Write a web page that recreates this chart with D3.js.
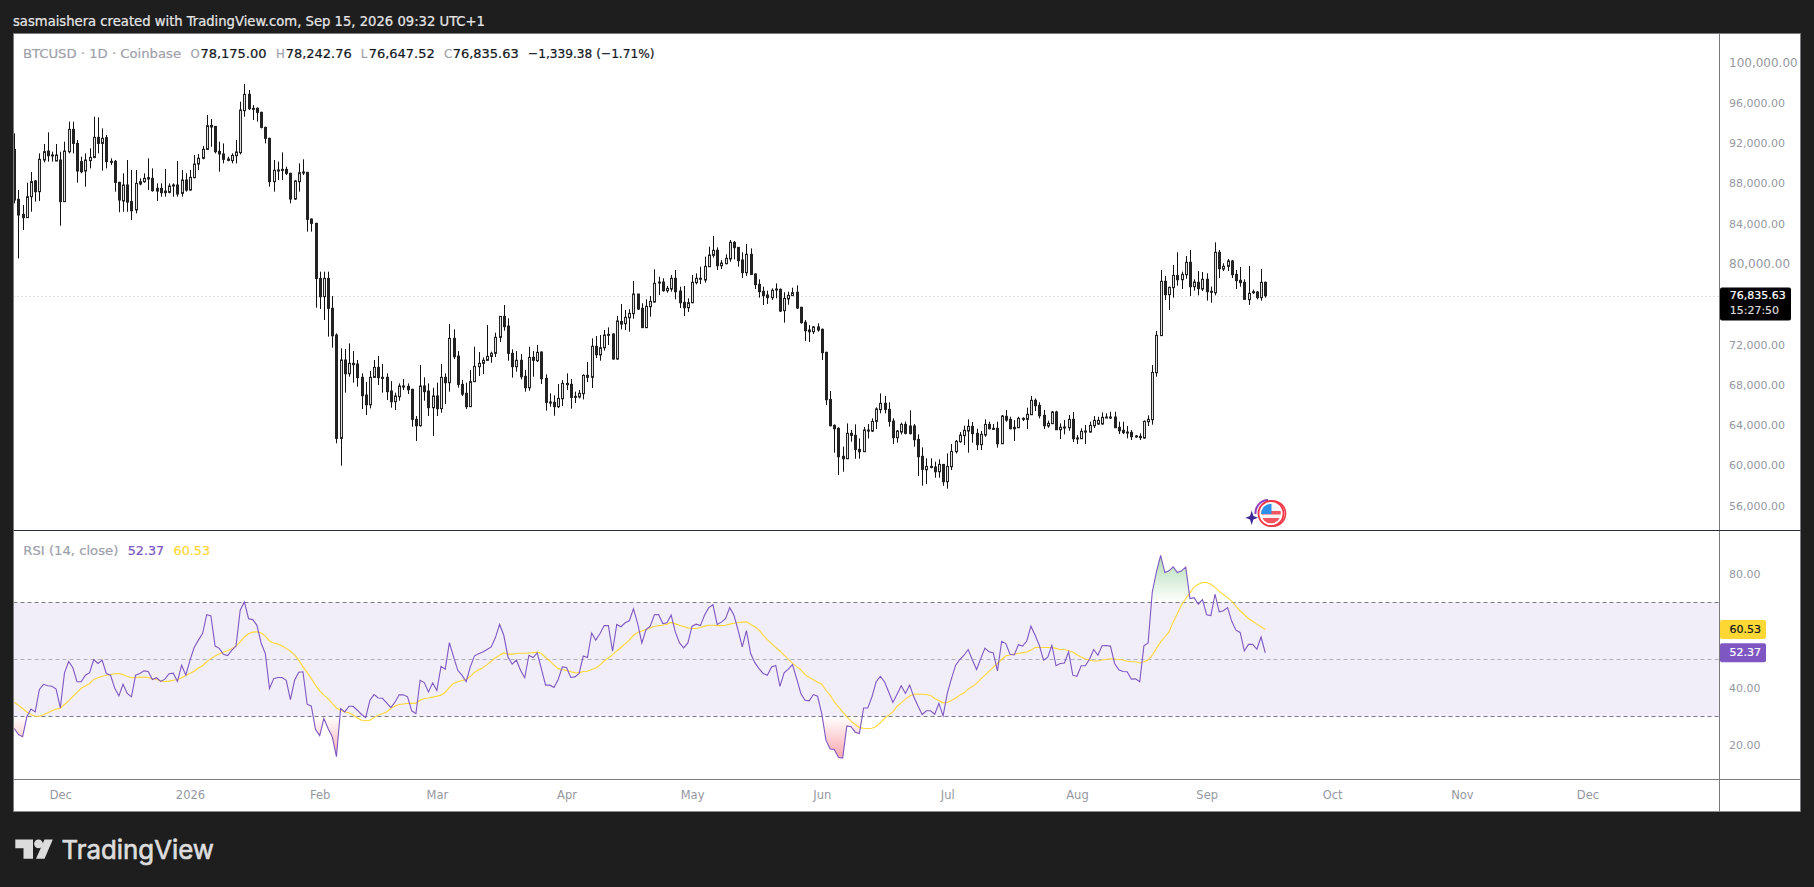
<!DOCTYPE html>
<html>
<head>
<meta charset="utf-8">
<title>BTCUSD</title>
<script src="https://cdn.jsdelivr.net/npm/d3@7"></script>
<style>
html, body { margin: 0; padding: 0; background: #1e1e1e; }
svg { display: block; }
</style>
</head>
<body>
<div id="canvas"></div>
<script>
// daily candles, last one is Sep 15 2026
const lastDay = "2026-09-15";
const opens = [
91370,86410,84920,84590,86670,88230,87170,90310,91200,90810,
90210,90310,86180,91140,93350,91960,90150,89220,90250,90570,
92560,91960,92530,90180,90180,88090,86240,87830,86180,85350,
87930,88160,88560,88490,87500,87500,87230,87100,87830,87830,
87000,88330,87330,88560,89910,90480,91370,93750,93650,91170,
90910,90410,90250,90740,91040,95210,96830,95440,95440,95040,
93550,92460,88160,89320,89380,89380,88990,86440,88160,89120,
89090,84450,84020,78560,76750,78560,75590,72940,62680,70460,
69100,70130,70060,68740,66980,66020,68740,69730,68740,68740,
67380,66320,66820,67880,67840,67550,64570,63940,67880,67380,
65730,66890,65630,68740,68210,72610,70850,68040,67150,65830,
68310,69800,70130,70430,70820,71120,72710,74790,73830,71120,
69800,70430,68840,67710,70720,70390,71250,68640,66290,66260,
65830,66620,68140,68040,66850,66790,67120,68940,68740,71820,
70960,71680,73010,73040,70560,74270,74070,74660,75060,77010,
75590,73670,75750,76220,78200,78200,77340,77510,78570,77310,
76180,75650,76150,78140,78470,78400,79720,80850,81350,79820,
80020,80490,82140,81640,80390,79130,80950,79000,77970,77280,
76910,76650,77510,77470,75360,76520,76850,77180,75690,74200,
73440,73270,73740,73500,71220,66550,63970,63680,60900,60660,
63180,62980,61590,61360,63510,63410,64370,65530,66160,65560,
64400,62750,63310,64070,63910,63910,62580,60900,59570,59900,
59840,59370,60100,58380,59870,61360,62350,62950,63410,63870,
63180,62060,63010,64070,63680,63680,62150,64870,64570,63780,
63740,64670,64570,65030,66460,65960,64970,63910,64140,65300,
63540,63810,63740,64570,62720,62650,63350,63310,63940,64110,
64110,64740,64800,64800,63780,63480,63310,63280,62920,62880,
62720,64340,64540,69200,72880,78270,76950,77640,78860,78430,
78930,80160,77740,78170,77510,78470,77280,77140,81150,79490,
79760,80290,78960,78370,78170,76450,77240,77210,76650,78175];
const highs = [
92960,87330,85840,88060,89120,88330,90970,91900,93060,91140,
91900,91140,92130,94120,94120,92300,90640,90970,91470,94610,
94550,93450,92790,90480,90310,88160,88990,90310,89320,89320,
88490,88990,90480,89480,87990,87990,89420,87990,87990,90210,
89320,88990,89320,90810,90910,91700,94780,94380,93650,92130,
91960,90640,90970,92300,96100,97860,97260,95770,95540,95110,
93620,92530,90310,90150,91070,89650,89050,88330,89980,90380,
89120,84520,84090,79230,79230,79230,76810,73110,71620,71550,
72110,71350,70460,69140,68270,69370,70460,70850,70060,69140,
68370,67220,68140,68570,68140,67610,64900,69960,68740,68140,
67710,68210,70060,69140,74030,73500,71350,68470,68210,69470,
71780,71250,70720,73930,71290,73170,74830,75920,74600,71520,
71350,71050,69470,71780,71350,71950,71320,69040,67150,66950,
68080,68470,69140,68570,67320,67480,69040,70260,72610,72840,
72940,73440,73700,73110,74830,76020,75420,75490,78300,77010,
76090,76480,76810,79460,78730,78570,77810,78900,79390,77740,
77810,76580,78900,79060,79720,80720,81710,82770,81640,80390,
80950,82370,82270,81640,81150,81970,81540,79060,78470,77740,
77340,77570,78070,77570,77180,77240,77640,77870,75750,74430,
73930,73830,74100,73600,71290,67380,64070,63780,61860,64170,
63510,64070,62680,63810,64110,64670,65760,67150,66890,66260,
64670,63510,64240,64340,65460,64110,63080,61790,60700,60700,
60370,60600,60100,61190,62120,62520,63310,63940,64570,64310,
63640,63410,64570,64340,64110,64340,65000,65500,64830,64500,
64830,64770,65730,66890,66650,66260,65500,64440,65400,65430,
64170,64500,65000,65300,63010,63680,64010,64340,64900,64830,
65260,65170,65330,65330,64340,64340,63910,63510,63010,63180,
64470,64970,69960,73340,79390,78800,77740,79890,81150,79230,
80780,81380,78470,79290,79200,79060,77740,82140,81380,80060,
80490,80390,79390,79690,78470,79790,77440,77310,79490,78242.76];
const lows = [
86010,80550,83360,84590,85180,86180,86240,90080,90150,90150,
90210,83790,86180,90970,90970,88060,88990,87660,89480,90480,
90970,89250,89480,89810,87170,85120,85180,85180,84360,85020,
87800,88060,87330,87170,86240,86670,86670,87000,86670,86670,
86670,87170,87270,88490,89320,90380,91300,91630,90970,89150,
89980,90180,89980,89980,90870,94610,95270,94280,94120,93450,
91960,87660,87170,88330,88330,88820,86010,86340,87170,88820,
83200,83200,75650,75520,74430,72780,71680,62190,59970,67220,
68800,68210,67810,65590,65000,65660,68710,67980,67220,66490,
65730,65500,66420,67480,67080,63840,62420,63840,66420,64900,
62910,64900,65230,66090,67320,70560,67710,66890,65590,65830,
68310,68870,69070,70360,70190,70760,72250,73370,70390,68710,
69300,68540,67320,67410,68800,70260,68080,65430,65830,64930,
65690,65890,67480,65630,66190,66650,66550,68270,67680,70660,
70390,71390,71950,70490,70490,73500,73440,73270,74560,75420,
73670,73670,74760,76150,76910,77240,77140,77240,76480,75620,
74830,75220,76090,77970,78000,78140,79720,80620,79390,79490,
79960,80220,80450,79720,78600,78800,78900,77510,76650,75920,
76020,76420,76580,75220,74170,75950,76810,75520,74070,72350,
72250,73040,73270,70460,65990,63870,61260,59040,59370,60660,
62350,60660,60660,61360,62680,63310,63610,65170,65170,63840,
62120,62250,63080,63080,63080,61860,58940,57980,58150,59710,
58780,58780,57980,57690,59540,61190,62250,62020,61260,62250,
61530,61530,62850,63580,63510,61760,62150,64340,63580,62420,
63740,64400,63610,65030,65400,64670,63610,63740,64140,63540,
62620,63080,63440,62320,62120,62650,62120,63250,63710,64010,
64040,64700,64600,63740,63110,63110,62680,62520,62750,62520,
62650,63910,64040,68800,72880,76420,75420,76650,77840,77510,
78530,76810,77340,76880,77310,76350,76150,76880,78600,79290,
79290,78600,77510,77740,76480,75920,77010,76480,76350,76647.52];
const closes = [
86340,84850,84590,86670,88160,87170,90380,91140,90740,90740,
90810,86180,91200,93350,91960,89220,89150,90310,90570,92560,
91960,92460,90150,90110,88090,86340,87830,86140,85280,87990,
88160,88490,88430,87270,87230,87070,87070,87730,87760,86940,
88330,87330,88590,89910,90480,91370,93720,93590,91140,90910,
90380,90280,90770,91110,95270,96830,95410,95370,95040,93550,
92460,88160,89290,89250,89290,88990,86440,88230,89050,89050,
84420,84020,78560,76750,78560,75590,72870,62680,70460,69100,
70130,70000,68710,66920,66020,68740,69730,68710,68670,67320,
66320,66890,67880,67780,67510,64570,63940,67880,67320,65730,
66890,65630,68740,68210,72610,70790,68040,67080,65830,68310,
69830,70130,70430,70820,71120,72710,74790,73770,71120,69800,
70430,68800,67710,70720,70430,71220,68610,66260,66220,65830,
66650,68140,68010,66750,66790,67150,68940,68740,71820,70990,
71680,72940,72940,70560,74330,74030,74700,75090,77010,75520,
73670,75790,76280,78070,78140,77340,77570,78570,77240,76150,
75650,76150,78170,78570,78570,79760,80880,81350,79820,80090,
80550,82140,81610,80320,79130,80950,78960,77940,77240,76850,
76650,77380,77440,75320,76580,76880,77140,75620,74170,73370,
73270,73740,73440,71190,66520,63940,63640,60860,60660,63180,
62980,61590,61360,63510,63440,64370,65600,66160,65560,64370,
62750,63410,64070,63180,63150,62550,60860,59610,59900,59840,
59370,60100,58380,59900,61390,62390,63010,63480,63870,63150,
62060,63080,64070,63640,63610,62150,64900,64500,63640,63640,
64670,64570,65070,66460,65930,64930,63940,64170,65300,63540,
63780,63740,64570,62650,62650,63380,63410,63970,64470,64470,
64770,64800,64740,63740,63440,63250,63250,62850,62850,62750,
64370,64570,69230,72910,78270,76950,77670,78860,78430,78960,
80160,77740,78200,77540,78470,77240,77210,81150,79530,79760,
80290,78930,78340,78140,76480,77080,77180,76650,78175,76835.63];

const rsi = [
25.8,23.7,22.9,29.9,32.6,31.6,39.5,41.3,40.8,40.6,39.6,33.0,45.3,49.3,47.1,42.2,42.2,44.5,45.4,50.0,
48.6,49.8,45.1,44.5,40.0,37.2,41.3,38.1,36.9,44.5,45.1,46.0,45.8,43.0,43.6,42.3,43.1,45.0,45.2,42.3,
48.0,44.5,49.8,54.2,56.8,59.1,65.7,65.3,54.7,53.9,51.8,51.4,53.3,54.7,67.3,70.2,64.3,64.0,62.0,55.8,
52.1,39.8,43.3,43.7,43.7,42.7,35.9,42.7,45.5,45.7,34.3,33.6,25.4,23.3,29.3,25.8,22.9,15.9,32.8,31.6,
33.6,33.6,32.2,30.7,29.6,35.7,37.7,36.5,36.4,34.8,33.1,35.1,37.6,37.6,36.9,32.0,31.0,42.7,41.9,38.6,
41.8,39.2,47.6,46.6,55.9,50.9,46.2,44.5,42.2,47.4,51.3,52.0,52.6,53.5,54.4,57.7,62.3,58.5,50.9,48.4,
49.8,46.2,43.6,51.5,50.7,52.3,46.6,41.0,41.0,40.2,43.0,47.4,47.2,43.7,43.9,45.1,51.2,50.7,59.3,56.8,
59.1,61.9,61.9,52.9,62.3,61.5,62.9,63.6,67.8,62.6,55.8,60.5,61.7,65.7,65.8,62.6,62.9,65.6,59.7,55.8,
54.1,55.8,61.7,62.4,61.9,65.6,68.2,69.2,62.3,63.1,64.3,68.2,65.6,60.3,54.4,60.1,52.1,48.9,46.8,45.1,
44.5,47.4,47.9,40.6,45.3,46.6,48.2,43.3,38.1,35.7,35.5,37.7,37.1,31.0,21.7,18.6,18.4,15.6,15.4,26.7,
26.4,24.5,24.0,33.0,33.0,36.9,42.2,44.1,42.2,38.6,34.9,37.8,40.8,38.1,41.0,36.9,33.7,30.7,32.0,32.0,
30.8,34.6,30.2,38.1,43.3,48.0,50.0,51.5,53.5,49.8,46.5,50.3,54.0,52.7,52.3,46.0,56.4,55.6,51.8,51.6,
55.2,54.7,56.5,61.7,58.5,55.0,49.8,50.7,55.0,47.8,48.6,48.8,52.7,44.5,44.1,47.8,47.8,50.1,53.5,51.5,
54.8,54.9,54.7,48.6,46.4,45.8,45.7,43.1,43.2,42.2,54.8,55.8,73.7,80.8,86.5,80.5,81.1,82.5,80.5,81.1,
82.4,71.4,71.7,69.4,71.0,65.7,65.4,72.9,66.7,67.1,68.2,63.4,60.3,59.5,53.0,55.3,55.3,53.6,57.9,52.37];
const rsiMa = [
35.0,33.9,32.8,31.6,30.7,30.1,30.1,30.6,31.3,32.0,32.6,32.9,34.2,35.5,37.1,38.5,39.9,40.7,41.6,43.0,
43.6,44.1,44.5,44.7,45.0,45.1,44.7,44.0,43.6,43.7,43.8,43.8,43.7,43.3,43.1,42.4,42.3,42.4,42.7,43.0,
43.6,44.4,45.2,45.9,47.0,47.8,49.2,50.3,51.2,51.9,52.6,53.1,53.9,54.7,56.2,57.9,59.0,59.6,59.7,59.3,
58.2,56.5,55.8,55.4,54.7,53.9,52.9,51.6,49.8,47.4,45.5,43.3,41.0,39.0,37.5,36.3,34.6,33.0,32.2,31.6,
31.3,30.5,29.5,28.7,28.5,28.7,29.6,30.5,31.0,31.6,32.8,33.7,34.2,34.4,34.6,34.6,34.7,35.7,36.3,36.5,
36.8,37.1,37.5,38.5,40.2,41.6,42.2,42.6,43.0,44.1,45.5,46.4,47.1,48.2,49.4,50.6,51.5,52.3,51.9,51.9,
52.1,52.2,52.2,52.3,52.4,52.6,52.1,50.7,49.5,48.0,46.8,46.5,46.1,45.7,45.4,45.3,45.8,45.9,46.5,47.0,
48.1,49.5,50.5,51.7,53.0,54.2,55.5,56.8,58.5,59.5,60.0,60.5,61.1,61.6,61.9,62.0,62.4,63.0,62.5,62.0,
61.6,61.1,60.9,60.9,61.2,61.7,62.0,62.0,61.9,61.9,62.0,62.4,62.7,63.0,63.1,63.2,62.3,61.5,60.4,58.5,
57.0,55.6,54.2,53.0,51.5,50.1,48.7,47.5,46.4,44.7,43.7,42.9,42.0,41.3,39.2,37.5,35.1,33.4,31.6,29.9,
28.4,27.2,26.1,25.9,25.8,25.9,26.5,27.8,29.3,30.5,31.6,33.6,34.8,36.1,37.2,37.8,37.9,37.8,37.7,37.4,
36.3,35.6,34.8,34.9,35.6,36.5,37.5,38.3,39.6,40.5,41.6,43.1,44.5,45.9,47.3,48.6,50.0,51.3,51.6,51.9,
52.1,52.4,52.6,53.3,54.2,54.3,54.2,54.2,54.2,53.9,53.5,53.5,53.1,52.6,51.7,50.9,50.2,49.8,49.5,49.5,
49.8,50.1,50.2,50.2,50.0,49.8,49.4,49.2,49.2,48.8,49.2,49.8,51.5,53.9,56.2,57.9,59.7,63.2,66.1,69.1,
71.4,73.4,75.5,76.4,77.0,77.0,76.4,75.3,73.9,72.8,71.7,70.5,68.7,67.1,65.7,64.4,63.4,62.4,61.5,60.53];

const priceTicks = [100000,96000,92000,88000,84000,80000,72000,68000,64000,60000,56000];
const widePriceTicks = [100000,80000];
const rsiTicks = [80,40,20];
const monthTicks = ["2025-12-01","2026-01-01","2026-02-01","2026-03-01","2026-04-01","2026-05-01","2026-06-01","2026-07-01","2026-08-01","2026-09-01","2026-10-01","2026-11-01","2026-12-01"];
const monthLabels = ["Dec","2026","Feb","Mar","Apr","May","Jun","Jul","Aug","Sep","Oct","Nov","Dec"];

const dayMs = 86400000;
const days = opens.map((d, i) => new Date(Date.parse(lastDay) - (opens.length - 1 - i)*dayMs));

// layout of the screenshot
const W = 1814, H = 887;
const plotLeft = 13.5, plotTop = 33.5, axisX = 1719.5, plotRight = 1800.5, plotBottom = 811.5;
const paneY = 530.5, timeY = 779.5;
const frameGray = "#7b7b7f", textGray = "#9598a1";
const uiFont = "'DejaVu Sans Condensed','DejaVu Sans',sans-serif";
const axisFont = "'DejaVu Sans',sans-serif";

const x = d3.scaleUtc()
    .domain([new Date("2025-12-01"), new Date("2026-12-01")])
    .range([60.3, 1587.4]);
const y = d3.scaleLinear().domain([56000, 100000]).range([505.7, 62.4]);
const yr = d3.scaleLinear().domain([30, 70]).range([716.5, 602.5]);

const svg = d3.select("#canvas").append("svg")
    .attr("width", W)
    .attr("height", H)
    .attr("viewBox", `0 0 ${W} ${H}`);

svg.append("rect").attr("width", W).attr("height", H).attr("fill", "#1e1e1e");
svg.append("rect")
    .attr("x", plotLeft).attr("y", plotTop)
    .attr("width", plotRight - plotLeft).attr("height", plotBottom - plotTop)
    .attr("fill", "#fff");

const defs = svg.append("defs");
defs.append("clipPath").attr("id", "plot").append("rect")
    .attr("x", plotLeft).attr("y", plotTop).attr("width", axisX - plotLeft).attr("height", timeY - plotTop);
defs.append("clipPath").attr("id", "over").append("rect")
    .attr("x", plotLeft).attr("y", paneY).attr("width", axisX - plotLeft).attr("height", yr(70) - paneY);
defs.append("clipPath").attr("id", "under").append("rect")
    .attr("x", plotLeft).attr("y", yr(30)).attr("width", axisX - plotLeft).attr("height", timeY - yr(30));

function gradient(id, y1, y2, color) {
    const g = defs.append("linearGradient").attr("id", id)
        .attr("gradientUnits", "userSpaceOnUse")
        .attr("x1", 0).attr("x2", 0).attr("y1", y1).attr("y2", y2);
    g.append("stop").attr("offset", 0).attr("stop-color", color).attr("stop-opacity", 0.45);
    g.append("stop").attr("offset", 1).attr("stop-color", color).attr("stop-opacity", 0);
}
gradient("greenFade", yr(87), yr(70), "#4caf50");
gradient("redFade", yr(15), yr(30), "#f23645");

// last price line
const closeLast = closes[closes.length - 1];
svg.append("line")
    .attr("x1", plotLeft).attr("x2", axisX)
    .attr("y1", Math.round(y(closeLast)) + 0.5).attr("y2", Math.round(y(closeLast)) + 0.5)
    .attr("stroke", "#bdbdbd").attr("stroke-dasharray", "1 3");

// candles
const candles = svg.append("g").attr("clip-path", "url(#plot)");
const idx = d3.range(opens.length);
candles.selectAll("line.wick").data(idx).join("line")
    .attr("class", "wick")
    .attr("x1", i => Math.round(x(days[i])) + 0.5)
    .attr("x2", i => Math.round(x(days[i])) + 0.5)
    .attr("y1", i => y(highs[i]))
    .attr("y2", i => y(lows[i]))
    .attr("stroke", "#111")
    .attr("stroke-width", 1);
candles.selectAll("rect.body").data(idx).join("rect")
    .attr("class", "body")
    .attr("x", i => Math.round(x(days[i])) - 0.5)
    .attr("width", 2)
    .attr("y", i => y(Math.max(opens[i], closes[i])))
    .attr("height", i => Math.max(1, Math.abs(y(opens[i]) - y(closes[i]))))
    .attr("fill", i => closes[i] >= opens[i] ? "#dedede" : "#222")
    .attr("stroke", "#222")
    .attr("stroke-width", 1);

// RSI pane
svg.append("rect")
    .attr("x", plotLeft).attr("width", axisX - plotLeft)
    .attr("y", yr(70)).attr("height", yr(30) - yr(70))
    .attr("fill", "#7e57c2").attr("fill-opacity", 0.1);
[[70, 1], [50, 0.55], [30, 1]].forEach(function(b) {
    svg.append("line")
        .attr("x1", plotLeft).attr("x2", axisX)
        .attr("y1", yr(b[0])).attr("y2", yr(b[0]))
        .attr("stroke", "#787b86").attr("stroke-opacity", b[1])
        .attr("stroke-dasharray", "4 3");
});

const rsiPane = svg.append("g").attr("clip-path", "url(#plot)");
rsiPane.append("path").datum(idx)
    .attr("clip-path", "url(#over)")
    .attr("fill", "url(#greenFade)")
    .attr("d", d3.area().x(i => x(days[i])).y0(yr(70)).y1(i => yr(rsi[i])));
rsiPane.append("path").datum(idx)
    .attr("clip-path", "url(#under)")
    .attr("fill", "url(#redFade)")
    .attr("d", d3.area().x(i => x(days[i])).y0(yr(30)).y1(i => yr(rsi[i])));
rsiPane.append("path").datum(idx)
    .attr("fill", "none").attr("stroke", "#fdd835").attr("stroke-width", 1.1)
    .attr("d", d3.line().x(i => x(days[i])).y(i => yr(rsiMa[i])));
rsiPane.append("path").datum(idx)
    .attr("fill", "none").attr("stroke", "#7e57c2").attr("stroke-width", 1.1)
    .attr("d", d3.line().x(i => x(days[i])).y(i => yr(rsi[i])));

// frame
function frameLine(x1, y1, x2, y2, color) {
    svg.append("line").attr("x1", x1).attr("y1", y1).attr("x2", x2).attr("y2", y2)
        .attr("stroke", color);
}
frameLine(plotLeft, plotTop, plotRight, plotTop, frameGray);
frameLine(plotLeft, plotTop, plotLeft, plotBottom, frameGray);
frameLine(plotRight, plotTop, plotRight, plotBottom, frameGray);
frameLine(plotLeft, plotBottom, plotRight, plotBottom, "#8c8c8c");
frameLine(axisX, plotTop, axisX, plotBottom, frameGray);
frameLine(plotLeft, paneY, plotRight, paneY, "#2a2e39");
frameLine(plotLeft, timeY, plotRight, timeY, frameGray);

// axes
function cleanAxis(g, size) {
    g.select(".domain").remove();
    g.selectAll(".tick line").remove();
    g.selectAll("text")
        .attr("fill", textGray)
        .style("font-family", axisFont)
        .style("font-size", size + "px");
}
svg.append("g")
    .attr("transform", `translate(${axisX},0)`)
    .call(d3.axisRight(y).tickValues(priceTicks).tickSize(0).tickPadding(9.5).tickFormat(d3.format(",.2f")))
    .call(cleanAxis, 11)
    .selectAll(".tick")
    .filter(d => widePriceTicks.includes(d))
    .select("text").style("font-size", "12px");
svg.append("g")
    .attr("transform", `translate(${axisX},0)`)
    .call(d3.axisRight(yr).tickValues(rsiTicks).tickSize(0).tickPadding(9.5).tickFormat(d3.format(".2f")))
    .call(cleanAxis, 11);
svg.append("g")
    .attr("transform", `translate(0,${timeY})`)
    .call(d3.axisBottom(x)
        .tickValues(monthTicks.map(d => new Date(d)))
        .tickSize(0).tickPadding(11)
        .tickFormat((d, i) => monthLabels[i]))
    .call(cleanAxis, 11.5);

// text helper, a hair of stroke to get the weight of the hinted original
function label(px, py, str, fill, size, family, len) {
    const t = svg.append("text")
        .attr("x", px).attr("y", py)
        .attr("dominant-baseline", "central")
        .attr("fill", fill)
        .attr("stroke", fill)
        .attr("stroke-width", 0.2)
        .style("font-family", family)
        .style("font-size", size + "px")
        .text(str);
    if (len) t.attr("textLength", len).attr("lengthAdjust", "spacingAndGlyphs");
    return t;
}

label(13, 20.5, "sasmaishera created with TradingView.com, Sep 15, 2026 09:32 UTC+1", "#e6e6e6", 13.5, uiFont, 472);

const dark = "#131722", mute = "#9ea1aa";
label(23, 53.5, "BTCUSD · 1D · Coinbase", mute, 13, uiFont, 158);
label(190.5, 53.5, "O", mute, 13, uiFont);
label(200.4, 53.5, d3.format(",.2f")(78175), dark, 13, uiFont, 66);
label(276, 53.5, "H", mute, 13, uiFont);
label(285.7, 53.5, d3.format(",.2f")(78242.76), dark, 13, uiFont, 66);
label(360.7, 53.5, "L", mute, 13, uiFont);
label(368.7, 53.5, d3.format(",.2f")(76647.52), dark, 13, uiFont, 66);
label(444, 53.5, "C", mute, 13, uiFont);
label(452.7, 53.5, d3.format(",.2f")(closeLast), dark, 13, uiFont, 66);
label(528, 53.5, "−1,339.38 (−1.71%)", dark, 13, uiFont, 126.5);

label(23.3, 550.7, "RSI (14, close)", mute, 13, uiFont, 95);
label(127.7, 550.7, "52.37", "#7e57c2", 13, uiFont, 36.5);
label(173.6, 550.7, "60.53", "#fdd835", 13, uiFont, 36.5);

// price tag and RSI tags
svg.append("rect").attr("x", axisX + 0.5).attr("y", 287.5).attr("width", 71).attr("height", 33).attr("rx", 2).attr("fill", "#000");
label(1729.7, 295.7, d3.format(",.2f")(closeLast), "#fff", 11, axisFont);
label(1729.7, 310.7, "15:27:50", "#dcdcdc", 11, axisFont);
svg.append("rect").attr("x", axisX + 0.5).attr("y", yr(60.53) - 9.5).attr("width", 46).attr("height", 19).attr("rx", 2).attr("fill", "#fdd835");
label(1729.4, yr(60.53), "60.53", "#131722", 11, axisFont);
svg.append("rect").attr("x", axisX + 0.5).attr("y", yr(52.37) - 9.5).attr("width", 46).attr("height", 19).attr("rx", 2).attr("fill", "#7e57c2");
label(1729.4, yr(52.37), "52.37", "#fff", 11, axisFont);

// economic event badge
const badge = svg.append("g");
badge.append("path")
    .attr("d", "M1251.7 510.5 L1253.4 516 L1258 517.7 L1253.4 519.4 L1251.7 525 L1250 519.4 L1245.4 517.7 L1250 516 Z")
    .attr("fill", "#3f2b96");
badge.append("path")
    .attr("d", "M1255.5 514 A13 13 0 0 1 1268 500")
    .attr("fill", "none").attr("stroke", "#8e3fc0").attr("stroke-width", 2);
badge.append("circle").attr("cx", 1273).attr("cy", 513.5).attr("r", 12.5)
    .attr("fill", "none").attr("stroke", "#f23645").attr("stroke-width", 1.6);
badge.append("circle").attr("cx", 1271).attr("cy", 513.5).attr("r", 12.5)
    .attr("fill", "#fff").attr("stroke", "#f23645").attr("stroke-width", 1.8);
defs.append("clipPath").attr("id", "flag").append("circle")
    .attr("cx", 1271).attr("cy", 513.5).attr("r", 9.8);
const flag = badge.append("g").attr("clip-path", "url(#flag)");
flag.append("rect").attr("x", 1260).attr("y", 503).attr("width", 22).attr("height", 22).attr("fill", "#f4f4f4");
flag.append("rect").attr("x", 1260).attr("y", 511).attr("width", 22).attr("height", 3.5).attr("fill", "#f4545f");
flag.append("rect").attr("x", 1260).attr("y", 518).attr("width", 22).attr("height", 6).attr("fill", "#f4545f");
flag.append("rect").attr("x", 1260).attr("y", 503).attr("width", 11.5).attr("height", 11).attr("fill", "#2f8fe8");

// TradingView logo
const logo = svg.append("g").attr("fill", "#dcdcdc");
logo.append("path").attr("d", "M15.3 839.5 H33 V858.7 H23.5 V848.2 H15.3 Z");
logo.append("circle").attr("cx", 38.5).attr("cy", 843.8).attr("r", 4.4);
logo.append("path").attr("d", "M44.5 839.5 H52.8 L44.5 858.7 H36 Z");
label(61.5, 849.5, "TradingView", "#dcdcdc", 26, "Inter,sans-serif", 152.5)
    .attr("stroke-width", 0.7);
</script>
</body>
</html>
